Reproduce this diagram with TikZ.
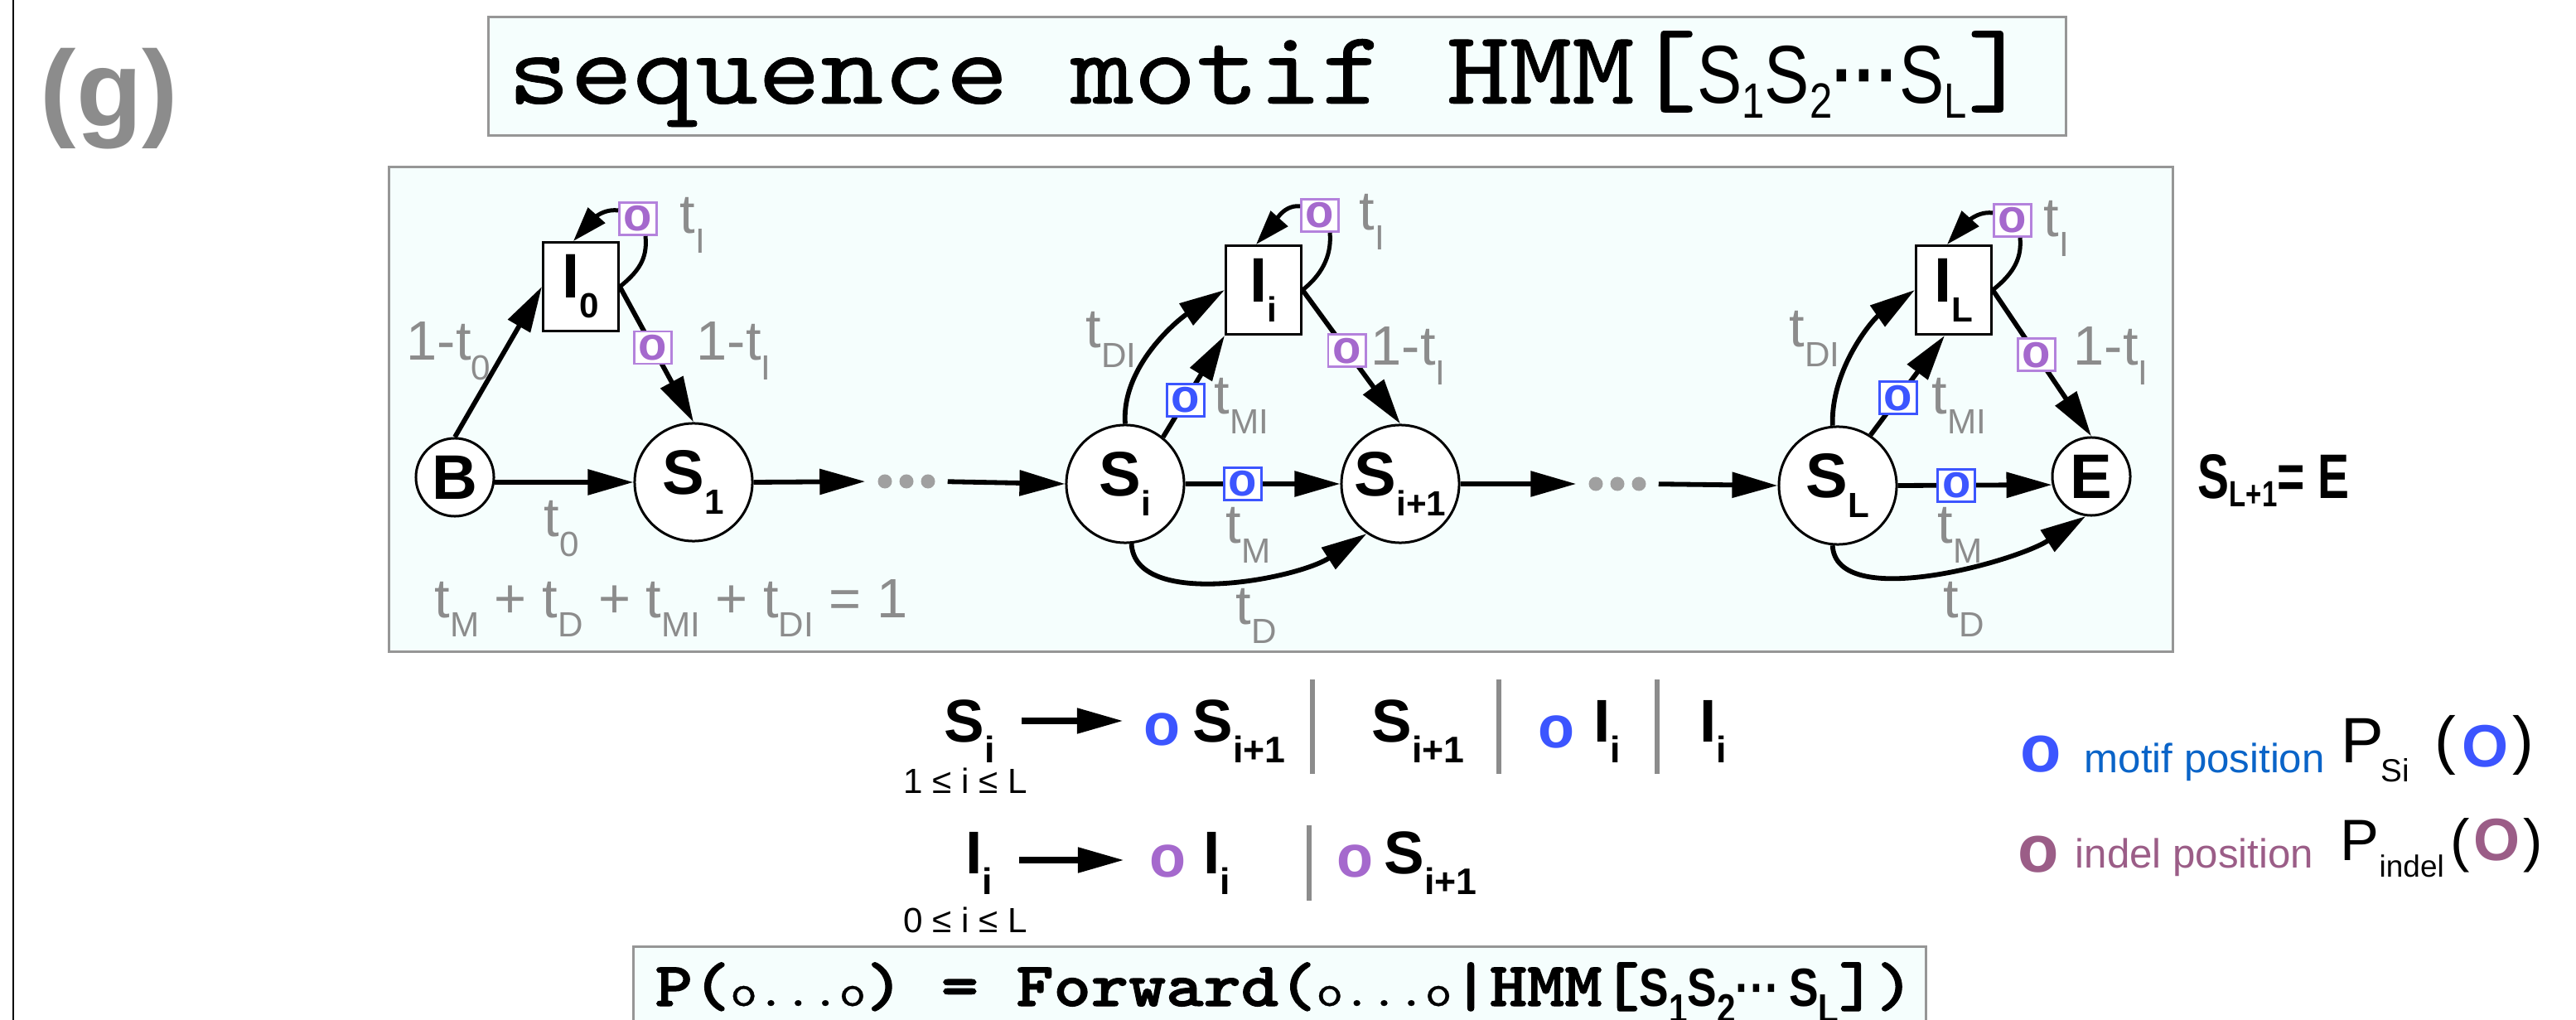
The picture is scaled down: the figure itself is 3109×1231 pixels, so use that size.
\documentclass[tikz,border=0pt]{standalone}
\usepackage{fontspec}
\setmainfont{Liberation Sans}
\newfontfamily\ttr{lmmono10-regular}[Extension=.otf,FakeStretch=1.14,FakeBold=0.6]
\newfontfamily\ttb{lmmonolt10-bold}[Extension=.otf,FakeStretch=1.14,FakeBold=1.6]
\newfontfamily\sansn{Liberation Sans}[FakeStretch=0.82]
\newfontfamily\sansc{Liberation Sans}[FakeStretch=0.75]
\usetikzlibrary{arrows.meta,calc}
\newcommand\fs[1]{\fontsize{#1}{#1}\selectfont}
\newcommand\gs[1]{\raisebox{-0.23cm}{\fs{12pt}#1}}
\newcommand\nsb[1]{\raisebox{-0.24cm}{\fs{12pt}#1}}
\newcommand\rsb[1]{\raisebox{-0.25cm}{\fs{12.7pt}#1}}
\newcommand\tsb[1]{\raisebox{-0.17cm}{\fs{17pt}#1}}
\newcommand\bsb[1]{\raisebox{-0.2cm}{\fs{14pt}#1}}
\definecolor{boxfill}{RGB}{245,254,253}
\definecolor{boxline}{RGB}{150,150,150}
\definecolor{glab}{RGB}{140,140,140}
\definecolor{pur}{RGB}{165,105,205}
\definecolor{purl}{RGB}{180,130,220}
\definecolor{blu}{RGB}{60,85,255}
\definecolor{blut}{RGB}{10,100,200}
\definecolor{mau}{RGB}{155,93,135}
\definecolor{dotg}{RGB}{160,160,160}
\definecolor{barg}{RGB}{140,140,140}
\tikzset{
  framebox/.style={rectangle, draw=boxline, fill=boxfill, line width=0.03cm, inner sep=0},
  circnode/.style={circle, draw, fill=white, line width=0.03cm, inner sep=0, font=\bfseries\fs{21.6pt}},
  bnode/.style={circnode, minimum size=1.42cm},
  snode/.style={circnode, minimum size=0.94cm},
  ibox/.style={rectangle, draw, fill=white, line width=0.03cm, inner sep=0, minimum width=0.91cm, minimum height=1.07cm, font=\bfseries\fs{21.6pt}},
  obox/.style={rectangle, draw, fill=white, line width=0.028cm, inner sep=0, minimum width=0.45cm, minimum height=0.39cm, font=\bfseries\fs{16pt}},
  pbox/.style={obox, draw=purl, text=pur},
  bbox/.style={obox, draw=blu, text=blu},
  conn/.style={line width=0.058cm, -{Triangle[length=0.55cm,width=0.3cm]}},
  loopline/.style={line width=0.05cm},
  looparr/.style={line width=0.05cm, -{Triangle[length=0.42cm,width=0.27cm]}},
  glabel/.style={anchor=base west, inner sep=0, text=glab, font=\fs{19pt}},
  txt/.style={anchor=base west, inner sep=0},
  rbold/.style={txt, font=\bfseries\fs{20.7pt}},
  ro/.style={txt, font=\bfseries\fs{20.5pt}},
  sepbar/.style={line width=0.06cm, draw=barg},
  rulearr/.style={line width=0.08cm, -{Triangle[length=0.56cm,width=0.29cm]}},
  dotsnode/.style={inner sep=0, minimum width=0.72cm, minimum height=0.2cm}
}
\begin{document}
\begin{tikzpicture}[x=0.01cm,y=-0.01cm]
\useasboundingbox (0,0) rectangle (3109,1231);
\clip (0,0) rectangle (3109,1231);
\draw[line width=0.025cm] (16,0) -- (16,1231);
\node[txt, text=glab, font=\bfseries\fs{37pt}] (glabel) at (48,153) {(g)};

% title
\node[framebox, minimum width=19.03cm, minimum height=1.42cm] (tbox) at (1541.5,92) {};
\node[txt] (ttext) at (612,125) {\ttr\fs{35.9pt}sequence motif HMM[{\sansn\fs{28.2pt}S\tsb{1}S\tsb{2}{\bfseries ···}S\tsb{L}}]};

% panel
\node[framebox, minimum width=21.52cm, minimum height=5.84cm] (panel) at (1546,494) {};

% states
\node[snode] (B) at (549,576) {B};
\node[bnode] (S1) at (837,582) {S\nsb{1}};
\node[bnode] (Si) at (1358,584) {S\nsb{i}};
\node[bnode] (Sj) at (1690,584) {S\nsb{i+1}};
\node[bnode] (SL) at (2218,586) {S\nsb{L}};
\node[snode] (E) at (2524,575) {E};
\node[ibox] (I0) at (701,346) {I\nsb{0}};
\node[ibox] (Ii) at (1525,350) {I\nsb{i}};
\node[ibox] (IL) at (2358,350) {I\nsb{L}};
\node[pbox] (q0) at (770,264) {o};
\node[pbox] (qi) at (1593,260) {o};
\node[pbox] (qL) at (2429,266) {o};
\node[dotsnode] (d1) at (1094,581) {};
\node[dotsnode] (d2) at (1952,584) {};
\foreach \n in {d1,d2} \foreach \dx in {-26,0,26} \fill[dotg] ($(\n)+(\dx,0)$) circle (0.085cm);

% connectors, first block
\draw[conn] (B.north) -- (I0.west);
\draw[conn] (B.-7) -- (S1.west);
\draw[conn] (I0.east) -- node[pbox, pos=0.45] (p0) {o} (S1.north);
\draw[loopline] (I0.east) .. controls +(28,-22) and +(2,22) .. ($(q0.south)+(9,0)$);
\draw[looparr] ($(q0.west)+(0,-10)$) .. controls +(-22,-3) and +(18,-20) .. ($(I0.north)+(-9,0)$);
\draw[conn, shorten >=0.13cm] (S1.east) -- (d1.west);
\draw[conn, shorten <=0.13cm] (d1.east) -- (Si.west);

% middle block
\draw[conn] (Si.north) .. controls +(-5,-70) and +(-55,35) .. (Ii.west);
\draw[conn] (Si.51) -- node[bbox, pos=0.365] (b1) {o} (Ii.south west);
\draw[conn] (Ii.east) -- node[pbox, pos=0.454] (p1) {o} (Sj.north);
\draw[loopline] (Ii.east) .. controls +(28,-22) and +(2,22) .. ($(qi.south)+(12,0)$);
\draw[looparr] ($(qi.west)+(0,-11)$) .. controls +(-22,-3) and +(18,-20) .. ($(Ii.north)+(-9,0)$);
\draw[conn] (Si.east) -- node[bbox, pos=0.37] (b2) {o} (Sj.west);
\draw[conn] (Si.276) .. controls +(4,80) and +(-85,55) .. (Sj.236);
\draw[conn, shorten >=0.13cm] (Sj.east) -- (d2.west);
\draw[conn, shorten <=0.13cm] (d2.east) -- (SL.west);

% last block
\draw[conn] (SL.95) .. controls +(-2,-70) and +(-50,35) .. (IL.west);
\draw[conn] (SL.57) -- node[bbox, pos=0.374] (b3) {o} ($(IL.south)+(-11,0)$);
\draw[conn] (IL.east) -- node[pbox, pos=0.444] (p2) {o} (E.north);
\draw[loopline] (IL.east) .. controls +(28,-22) and +(2,22) .. ($(qL.south)+(9,0)$);
\draw[looparr] ($(qL.west)+(0,-9)$) .. controls +(-22,-3) and +(18,-20) .. ($(IL.north)+(-8,0)$);
\draw[conn] (SL.east) -- node[bbox, pos=0.38] (b4) {o} (E.192);
\draw[conn] (SL.265) .. controls +(4,80) and +(-85,55) .. (E.262);

% gray labels
\node[glabel] (l1) at (490,435) {1-t\gs{0}};
\node[glabel] (l2) at (820,282) {t\gs{I}};
\node[glabel] (l3) at (840,435) {1-t\gs{I}};
\node[glabel] (l4) at (656,648) {t\gs{0}};
\node[glabel] (l5) at (524,745) {t\gs{M} + t\gs{D} + t\gs{MI} + t\gs{DI} = 1};
\node[glabel] (l6) at (1640,278) {t\gs{I}};
\node[glabel] (l7) at (1310,420) {t\gs{DI}};
\node[glabel] (l8) at (1465,500) {t\gs{MI}};
\node[glabel] (l9) at (1654,441) {1-t\gs{I}};
\node[glabel] (l10) at (1479,656) {t\gs{M}};
\node[glabel] (l11) at (1491,753) {t\gs{D}};
\node[glabel] (l12) at (2466,286) {t\gs{I}};
\node[glabel] (l13) at (2159,419) {t\gs{DI}};
\node[glabel] (l14) at (2331,500) {t\gs{MI}};
\node[glabel] (l15) at (2502,441) {1-t\gs{I}};
\node[glabel] (l16) at (2338,656) {t\gs{M}};
\node[glabel] (l17) at (2345,745) {t\gs{D}};

\node[txt, font=\sansc\bfseries\fs{21.6pt}] (sle) at (2652,602) {S\raisebox{-0.09cm}{\fs{12.5pt}L+1}= E};

% grammar rule 1
\node[rbold] (r1a) at (1139,895) {S\rsb{i}};
\node[txt, font=\fs{12pt}] (r1c) at (1090,957) {1 ≤ i ≤ L};
\coordinate (r1p) at (1233,870);
\coordinate (r1q) at (1356,870);
\draw[rulearr] (r1p) -- (r1q);
\node[ro, text=blu] (r1o) at (1380,899) {o};
\node[rbold] (r1b) at (1439,895) {S\rsb{i+1}};
\draw[sepbar] (1584,820) -- (1584,934);
\node[rbold] (r1d) at (1655,895) {S\rsb{i+1}};
\draw[sepbar] (1809,820) -- (1809,934);
\node[ro, text=blu] (r1e) at (1856,902) {o};
\node[rbold] (r1f) at (1923,895) {I\rsb{i}};
\draw[sepbar] (2000,820) -- (2000,934);
\node[rbold] (r1g) at (2051,895) {I\rsb{i}};

% grammar rule 2
\node[rbold] (r2a) at (1165,1054) {I\rsb{i}};
\node[txt, font=\fs{12pt}] (r2c) at (1090,1125) {0 ≤ i ≤ L};
\coordinate (r2p) at (1230,1038);
\coordinate (r2q) at (1357,1038);
\draw[rulearr] (r2p) -- (r2q);
\node[ro, text=pur] (r2o) at (1387,1058) {o};
\node[rbold] (r2b) at (1452,1054) {I\rsb{i}};
\draw[sepbar] (1580,996) -- (1580,1087);
\node[ro, text=pur] (r2d) at (1613,1058) {o};
\node[rbold] (r2e) at (1670,1054) {S\rsb{i+1}};

% legend
\node[txt, text=blu, font=\bfseries\fs{23pt}] (k1o) at (2438,931) {o};
\node[txt, text=blut, font=\fs{14pt}] (k1t) at (2515,932) {motif position};
\node[txt, font=\fs{22pt}] (k1p) at (2825,920) {P};
\node[txt, font=\fs{11pt}] (k1s) at (2873,943) {Si};
\node[txt, font=\fs{22pt}] (k1r) at (2938,919) {(\kern0.07cm\raisebox{-0.06cm}{\bfseries\fs{20.5pt}\textcolor{blu}{O}}\kern0.05cm)};
\node[txt, text=mau, font=\bfseries\fs{23pt}] (k2o) at (2435,1052) {o};
\node[txt, text=mau, font=\fs{14pt}] (k2t) at (2504,1047) {indel position};
\node[txt, font=\fs{20pt}] (k2p) at (2824,1038) {P};
\node[txt, font=\fs{10.5pt}] (k2s) at (2871,1058) {indel};
\node[txt, font=\fs{20pt}] (k2r) at (2957,1038) {(\kern0.04cm{\bfseries\fs{20.5pt}\textcolor{mau}{O}}\kern0.04cm)};

% formula box
\node[framebox, minimum width=15.59cm, minimum height=1.6cm] (fbox) at (1544.5,1223) {};
\node[txt] (ftext) at (790,1214) {\ttb\fs{21.5pt}P({\ttr\fs{15.6pt}o...o}) = Forward({\ttr\fs{15.6pt}o...o}|HMM[{\sansn\bfseries\fs{18.5pt}S\bsb{1}S\bsb{2}···\,S\bsb{L}}])};
\end{tikzpicture}
\end{document}
